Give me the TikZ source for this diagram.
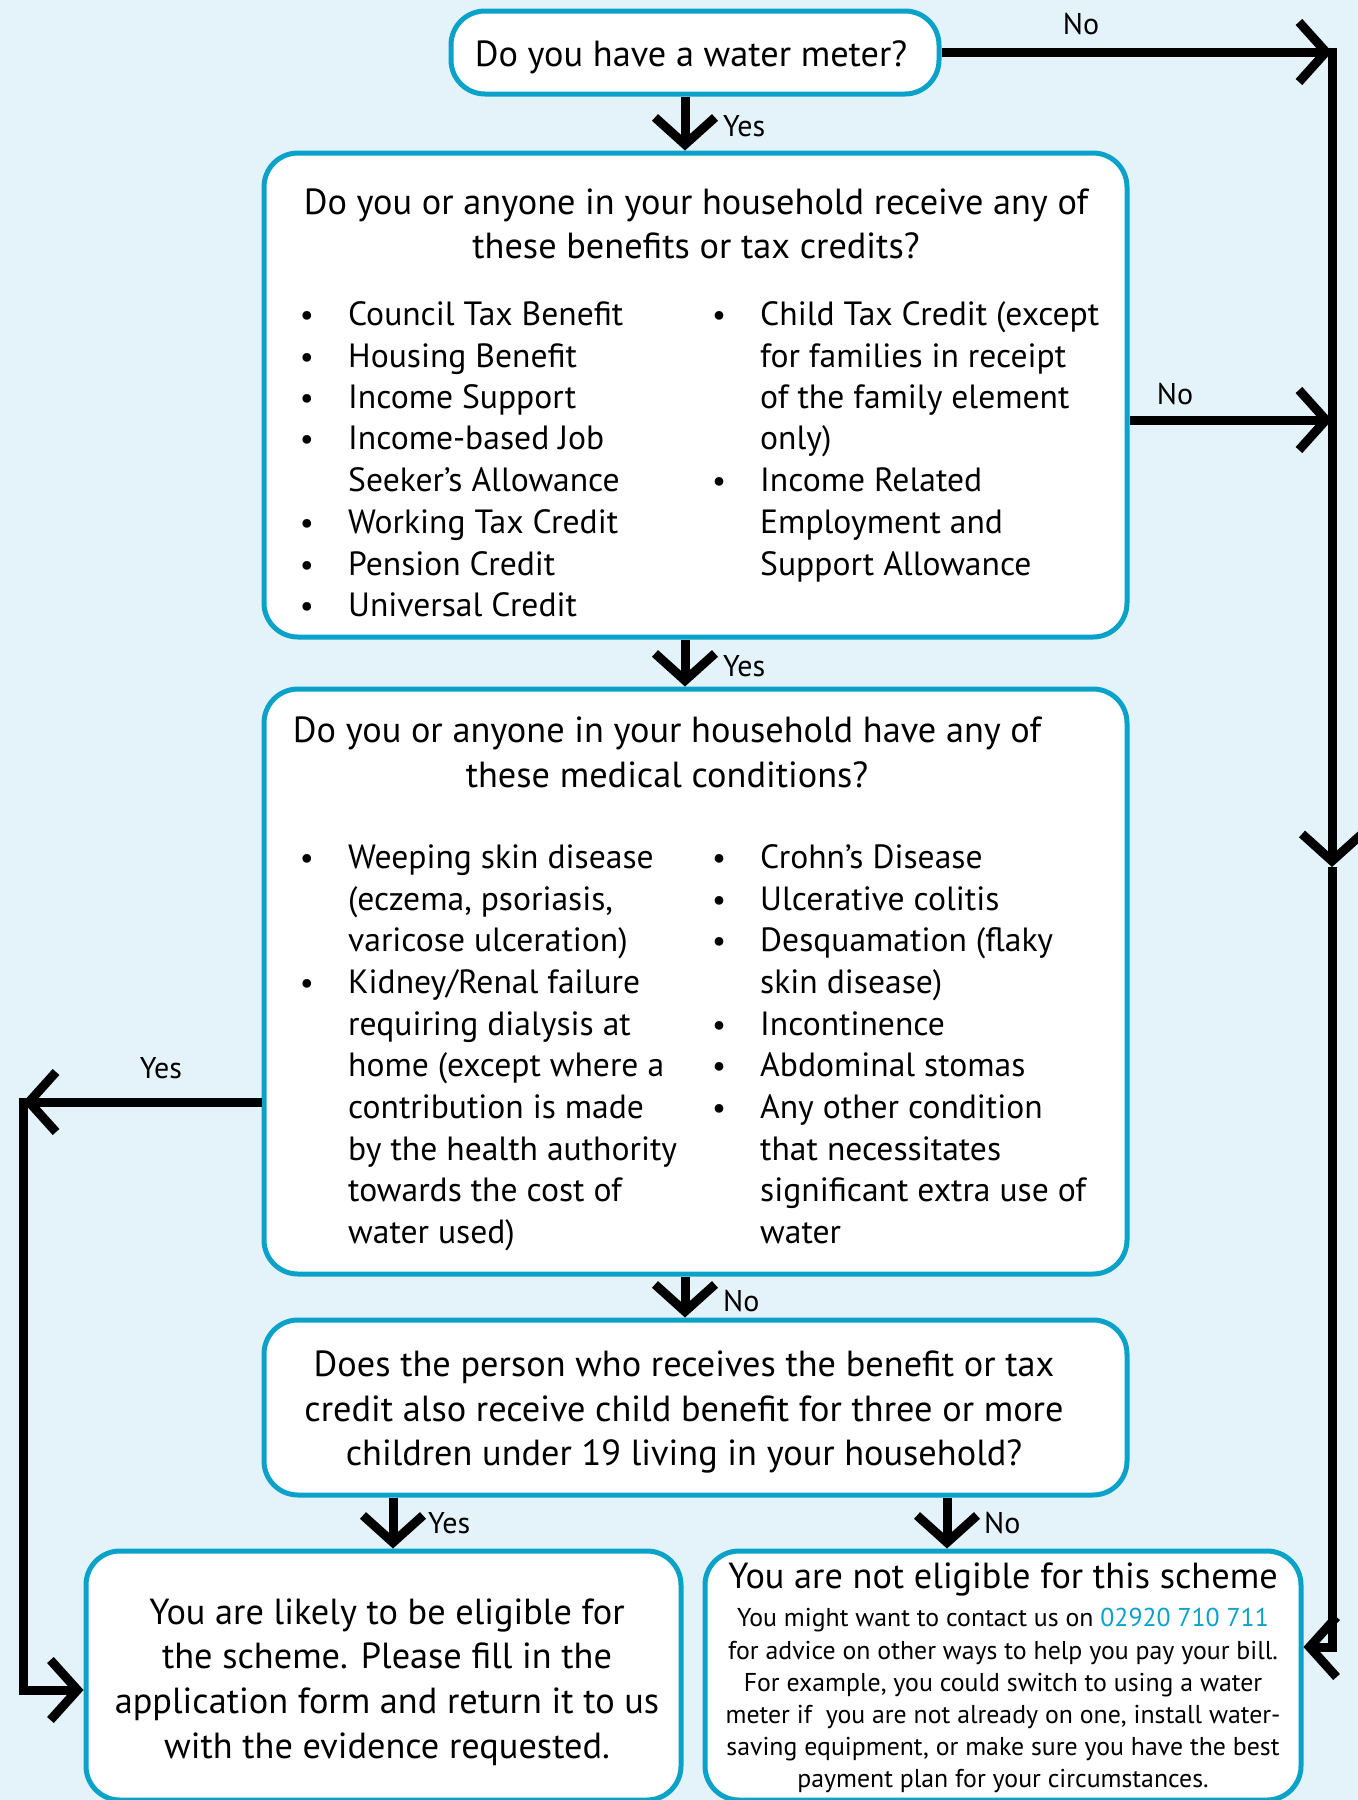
\documentclass[tikz,border=0pt]{standalone}
\usepackage{fontspec}
\setmainfont{PT Sans}
\usetikzlibrary{arrows.meta}
\definecolor{bgblue}{HTML}{E4F3F9}
\definecolor{cyanb}{HTML}{0BA2CA}
\begin{document}
\begin{tikzpicture}[x=1pt,y=-1pt,
  box/.style={draw=cyanb, line width=5pt, fill=white, rounded corners=34pt, inner sep=0pt},
  flow/.style={line width=9pt, black, line join=miter},
  tipflow/.style={flow, -{Straight Barb[length=27pt,width=60pt]}},
  lbl/.style={font=\fontsize{30}{32}\selectfont, inner sep=0pt},
  hline/.style={font=\fontsize{36.3}{45}\selectfont, inner sep=0pt, anchor=base},
  itm/.style={font=\fontsize{33.6}{41}\selectfont, inner sep=0pt, anchor=base west},
  bul/.style={font=\fontsize{31}{41}\selectfont, inner sep=0pt, anchor=base},
  small/.style={font=\fontsize{25.8}{30}\selectfont, inner sep=0pt, anchor=base},
]
\fill[bgblue] (0,0) rectangle (1358,1800);
\useasboundingbox (0,0) rectangle (1358,1800);

% coordinates
\coordinate (ax) at (685,0);
\coordinate (ay) at (393,0);
\coordinate (az) at (947,0);
\coordinate (rTop) at (1332,52);
\coordinate (rNo) at (1332,420);
\coordinate (rMid) at (1332,867);
\coordinate (rBot) at (1332,1647);
\coordinate (lTop) at (23,1102);
\coordinate (lBot) at (23,1690);

% boxes
\node[box, minimum width=488pt, minimum height=83pt] (b1) at (695,52.5) {};
\node[box, minimum width=863pt, minimum height=484pt] (b2) at (695.5,395) {};
\node[box, minimum width=863pt, minimum height=585pt] (b3) at (695.5,981.5) {};
\node[box, minimum width=863pt, minimum height=175pt] (b4) at (695.5,1407.5) {};
\node[box, minimum width=595pt, minimum height=249pt] (b5) at (383.5,1675.5) {};
\node[box, minimum width=596pt, minimum height=249pt] (b6) at (1003,1675.5) {};

% box 1 text
\node[hline] (t1) at (691,66) {Do you have a water meter?};

% box 2 text
\node[hline] (t2a) at (696,214) {Do you or anyone in your household receive any of};
\node[hline] (t2b) at (696,258) {these benefits or tax credits?};
\foreach \y/\t [count=\i] in {313/Council Tax Benefit, 355/Housing Benefit, 396/Income Support, 437/Income-based Job, 479/Seeker’s Allowance, 521/Working Tax Credit, 563/Pension Credit, 604/Universal Credit}
  \node[itm] (b2l\i) at (348,\y+12) {\t};
\foreach \y [count=\i] in {313,355,396,437,521,563,604}
  \node[bul] (b2lb\i) at (307,\y+12) {•};
\foreach \y/\t [count=\i] in {313/Child Tax Credit (except, 355/for families in receipt, 396/of the family element, 437/only), 479/Income Related, 521/Employment and, 563/Support Allowance}
  \node[itm] (b2r\i) at (760,\y+12) {\t};
\foreach \y [count=\i] in {313,479}
  \node[bul] (b2rb\i) at (719,\y+12) {•};

% box 3 text
\node[hline] (t3a) at (667,742) {Do you or anyone in your household have any of};
\node[hline] (t3b) at (667,787) {these medical conditions?};
\foreach \y/\t [count=\i] in {856/Weeping skin disease, 898/{(eczema, psoriasis,}, 939/varicose ulceration), 981/{Kidney/Renal failure}, 1023/requiring dialysis at, 1064/home (except where a, 1106/contribution is made, 1148/by the health authority, 1189/towards the cost of, 1231/water used)}
  \node[itm] (b3l\i) at (348,\y+12) {\t};
\foreach \y [count=\i] in {856,981}
  \node[bul] (b3lb\i) at (307,\y+12) {•};
\foreach \y/\t [count=\i] in {856/Crohn’s Disease, 898/Ulcerative colitis, 939/Desquamation (flaky, 981/skin disease), 1023/Incontinence, 1064/Abdominal stomas, 1106/Any other condition, 1148/that necessitates, 1189/significant extra use of, 1231/water}
  \node[itm] (b3r\i) at (760,\y+12) {\t};
\foreach \y [count=\i] in {856,898,939,1023,1064,1106}
  \node[bul] (b3rb\i) at (719,\y+12) {•};

% box 4 text
\node[hline] (t4a) at (684,1376) {Does the person who receives the benefit or tax};
\node[hline] (t4b) at (684,1421) {credit also receive child benefit for three or more};
\node[hline] (t4c) at (684,1465) {children under 19 living in your household?};

% box 5 text
\node[hline] (t5a) at (387,1624) {You are likely to be eligible for};
\node[hline] (t5b) at (387,1668) {the scheme. Please fill in the};
\node[hline] (t5c) at (387,1713) {application form and return it to us};
\node[hline] (t5d) at (387,1758) {with the evidence requested.};

% box 6 text
\node[hline] (t6) at (1003,1588) {You are not eligible for this scheme};
\node[small] (t6a) at (1003,1626) {You might want to contact us on \textcolor{cyanb}{02920 710 711}};
\node[small] (t6b) at (1003,1659) {for advice on other ways to help you pay your bill.};
\node[small] (t6c) at (1003,1691) {For example, you could switch to using a water};
\node[small] (t6d) at (1003,1723) {meter if~ you are not already on one, install water-};
\node[small] (t6e) at (1003,1755) {saving equipment, or make sure you have the best};
\node[small] (t6f) at (1003,1787) {payment plan for your circumstances.};

% connectors
\draw[tipflow] (b1.south -| ax) -- (b2.north -| ax);
\draw[tipflow] (b2.south -| ax) -- (b3.north -| ax);
\draw[tipflow] (b3.south -| ax) -- (b4.north -| ax);
\draw[tipflow] (b4.south -| ay) -- (b5.north -| ay);
\draw[tipflow] (b4.south -| az) -- (b6.north -| az);

\draw[tipflow] (b1.east |- rTop) -- (rTop);
\draw[tipflow] (b2.east |- rNo) -- (rNo);
\draw[tipflow] ([yshift=4.5pt]rTop) -- (rMid);
\draw[tipflow] (rMid) -- (rBot) -- (b6.east |- rBot);

\draw[tipflow] (b3.west |- lTop) -- (lTop);
\draw[tipflow] ([yshift=4.5pt]lTop) -- (lBot) -- (b5.west |- lBot);

% labels
\node[lbl, anchor=west] (ly1) at (723,126) {Yes};
\node[lbl, anchor=west] (ly2) at (723,666) {Yes};
\node[lbl, anchor=west] (ln3) at (723,1301) {No};
\node[lbl, anchor=west] (ly4) at (428,1523) {Yes};
\node[lbl, anchor=west] (ln4) at (984,1523) {No};
\node[lbl] (ln1) at (1081,24) {No};
\node[lbl] (ln2) at (1175,394) {No};
\node[lbl] (ly3) at (161,1068) {Yes};
\end{tikzpicture}
\end{document}
